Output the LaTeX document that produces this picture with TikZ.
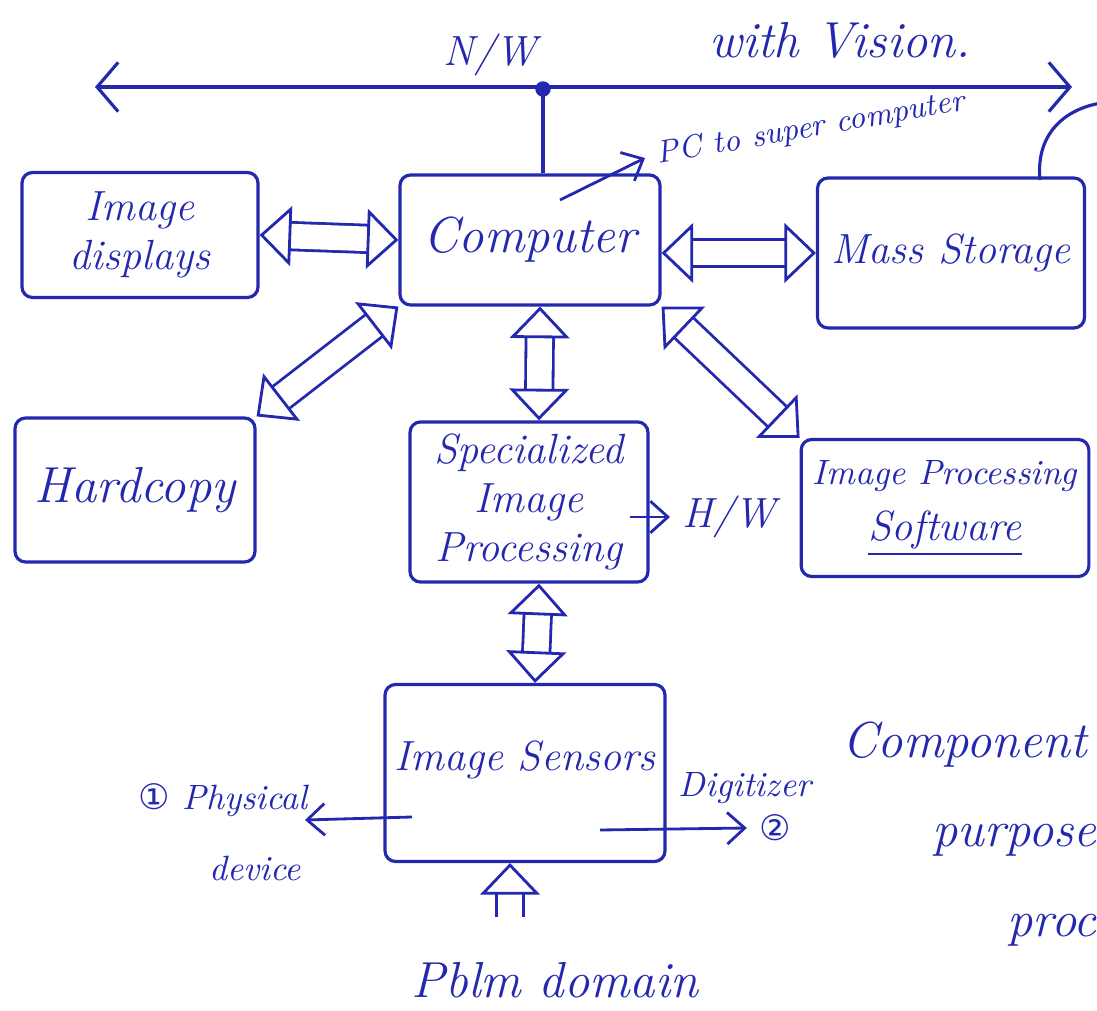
\documentclass[tikz,border=0pt]{standalone}
\usepackage{fontspec}
\newfontfamily\symfont{DejaVu Sans}
\usetikzlibrary{arrows.meta,positioning}
\definecolor{inkblue}{RGB}{35,40,175}
\tikzset{
  ink/.style={draw=inkblue, line width=0.9pt},
  block/.style={ink, rounded corners=3pt, text=inkblue, align=center, font=\large\itshape},
  hollow/.style={draw=inkblue, double=white, double distance=7pt, line width=0.8pt,
    {Triangle[open,length=9pt,width=17pt,line width=0.8pt]}-{Triangle[open,length=9pt,width=17pt,line width=0.8pt]}},
  hollowup/.style={draw=inkblue, double=white, double distance=7pt, line width=0.8pt,
    -{Triangle[open,length=9pt,width=17pt,line width=0.8pt]}},
  thin/.style={draw=inkblue, line width=0.8pt, -{Straight Barb[length=5pt,width=9pt]}},
  note/.style={text=inkblue, font=\itshape}
}
\begin{document}
\begin{tikzpicture}
  \useasboundingbox (0,0) rectangle (10.97,-10.11);
  \fill [white] (0,0) rectangle (10.97,-10.11);

  % blocks
  \node [block, minimum width=2.36cm, minimum height=1.25cm] (disp) at (1.40,-2.35) {Image\\displays};
  \node [block, minimum width=2.60cm, minimum height=1.30cm] (comp) at (5.30,-2.40) {\Large Computer};
  \node [block, minimum width=2.67cm, minimum height=1.50cm] (mass) at (9.51,-2.53) {Mass Storage};
  \node [block, minimum width=2.40cm, minimum height=1.44cm] (hard) at (1.35,-4.90) {\Large Hardcopy};
  \node [block, minimum width=2.38cm, minimum height=1.41cm] (spec) at (5.29,-5.02) {Specialized\\Image\\Processing};
  \node [block, minimum width=2.80cm, minimum height=1.37cm] (soft) at (9.45,-5.08) {\normalsize Image Processing\\[2pt] \underline{Software}};
  \node [block, minimum width=2.80cm, minimum height=1.77cm,
         label={[anchor=north, yshift=-0.45cm, text=inkblue, font=\large\itshape]north:Image Sensors}] (sens) at (5.25,-7.73) {};

  % network
  \coordinate (nwL) at (0.95,-0.87);
  \coordinate (nwR) at (10.72,-0.87);
  \coordinate (tap) at (5.43,-0.89);
  \draw [ink, {Straight Barb[length=6pt,width=14pt]}-{Straight Barb[length=6pt,width=14pt]}] (nwL) -- (nwR);
  \fill [inkblue] (tap) circle (2.2pt);
  \draw [ink] (tap) -- (tap |- comp.north);
  \node [note, font=\large\itshape] (nw) at (4.90,-0.55) {N/W};
  \node [note, font=\Large\itshape] (vis) at (8.40,-0.40) {with Vision.};
  \begin{scope}
    \clip (0,0) rectangle (10.97,-10.11);
    \draw [ink] (10.40,-1.80) .. controls (10.35,-1.30) and (10.70,-1.05) .. (11.10,-1.02);
  \end{scope}

  % hollow links
  \draw [hollow] (disp.east) -- (comp.west);
  \draw [hollow] (comp.east |- mass.west) -- (mass.west);
  \draw [hollow] (hard.north east) -- (comp.south west);
  \draw [hollow] ([xshift=1mm]comp.south) -- ([xshift=1mm]spec.north);
  \draw [hollow] (comp.south east) -- (soft.north west);
  \draw [hollow] ([xshift=1mm]spec.south) -- ([xshift=1mm]sens.north);
  \coordinate (pd) at (5.10,-9.17);
  \draw [hollowup] (pd) -- (pd |- sens.south);
  \node [note, font=\Large\itshape] (pblm) at (5.55,-9.80) {Pblm domain};

  % side notes
  \coordinate (pcA) at (5.60,-2.00);
  \node [note, font=\small\itshape, rotate=10, anchor=west] (pc) at (6.45,-1.58) {PC to super computer};
  \draw [thin] (pcA) -- (pc.west);
  \node [note, font=\large\itshape, anchor=west] (hw) at (6.70,-5.17) {H/W};
  \draw [thin] ([xshift=-2mm]spec.east |- hw.west) -- (hw.west);
  \coordinate (sensL) at (4.12,-8.17);
  \coordinate (sensR) at (6.00,-8.30);
  \node [note, anchor=east] (phys) at (3.20,-8.00) {{\symfont ①} Physical};
  \node [note] (dev) at (2.55,-8.68) {device};
  \draw [thin] (sensL) -- (3.05,-8.20);
  \node [note] (digi) at (7.45,-7.88) {Digitizer};
  \node [note, font=\symfont] (two) at (7.75,-8.28) {②};
  \draw [thin] (sensR) -- (two.west);

  % title
  \node [note, font=\Large\itshape, anchor=west] (t1) at (8.30,-7.45) {Component};
  \node [note, font=\Large\itshape, anchor=west] (t2) at (9.20,-8.40) {purpose};
  \node [note, font=\Large\itshape, anchor=west] (t3) at (9.95,-9.30) {proc};
\end{tikzpicture}
\end{document}
